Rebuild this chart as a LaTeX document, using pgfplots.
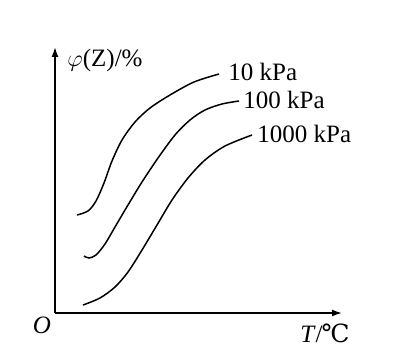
\documentclass[border=0pt]{standalone}
\usepackage{fontspec}
\setmainfont{Liberation Serif}
\newfontfamily\symfont{DejaVu Serif}
\usepackage{pgfplots}
\pgfplotsset{compat=1.18}
\usetikzlibrary{arrows.meta}
\begin{document}
\fontsize{12.5}{15}\selectfont
\begin{tikzpicture}
\begin{axis}[
  x=0.5pt, y=0.5pt,
  xmin=0, xmax=287, ymin=0, ymax=266,
  axis lines=left,
  axis line style={line width=0.8pt, -{Latex[length=5pt,width=3.5pt]}},
  xtick=\empty, ytick=\empty,
  clip=false,
]
% curves read in image pixels (x, y from top)
\addplot[black, line width=0.75pt, smooth] table[x expr=\thisrow{x}-55, y expr=313-\thisrow{y}] {
x y
77 215
88 211
96 201
104 183
112 161
122 140
135 122
150 108
170 95
194 82
219 74
};
\addplot[black, line width=0.75pt, smooth] table[x expr=\thisrow{x}-55, y expr=313-\thisrow{y}] {
x y
84 256
89 258
96 255
105 244
115 227
128 205
142 182
158 158
175 135
190 120
205 110
222 104
239 101
};
\addplot[black, line width=0.75pt, smooth] table[x expr=\thisrow{x}-55, y expr=313-\thisrow{y}] {
x y
83 305
100 298
115 287
128 272
142 250
157 225
172 200
188 178
205 160
225 146
252 135
};
\node[anchor=west, inner sep=0pt] at (axis cs:173,241) {10 kPa};
\node[anchor=west, inner sep=0pt] at (axis cs:188,213) {100 kPa};
\node[anchor=west, inner sep=0pt] at (axis cs:202,179) {1000 kPa};
\node[inner sep=0pt] at (axis cs:50,253) {$\varphi$(Z)/\%};
\node[inner sep=0pt] at (axis cs:-13,-12) {\textit{O}};
\node[inner sep=0pt] at (axis cs:270,-20) {\textit{T}/\kern-0.5pt{\symfont ℃}};
\path (axis cs:-55,-46) rectangle (axis cs:340,313);
\end{axis}
\end{tikzpicture}
\end{document}
